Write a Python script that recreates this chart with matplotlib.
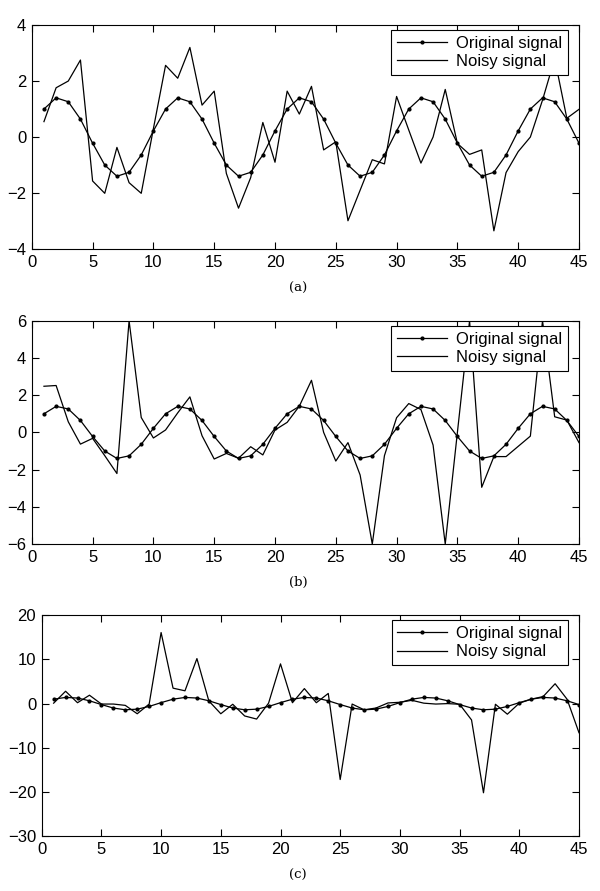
import matplotlib
matplotlib.use("Agg")
import matplotlib.pyplot as plt

plt.rcParams['font.family'] = ['Liberation Sans', 'DejaVu Sans']

# sample index
x = list(range(1, 46))

# clean signal (same in the three panels)
original = [1.00, 1.40, 1.26, 0.64, -0.22, -1.00, -1.40, -1.26, -0.64, 0.22,
            1.00, 1.40, 1.26, 0.64, -0.22, -1.00, -1.40, -1.26, -0.64, 0.22,
            1.00, 1.40, 1.26, 0.64, -0.22, -1.00, -1.40, -1.26, -0.64, 0.22,
            1.00, 1.40, 1.26, 0.64, -0.22, -1.00, -1.40, -1.26, -0.64, 0.22,
            1.00, 1.40, 1.26, 0.64, -0.22]

# noisy versions
noisy_a = [0.55, 1.76, 2.00, 2.75, -1.57, -2.01, -0.37, -1.63, -2.01, 0.30,
           2.56, 2.10, 3.20, 1.14, 1.64, -1.30, -2.54, -1.45, 0.52, -0.90,
           1.64, 0.82, 1.81, -0.46, -0.17, -2.99, -1.90, -0.81, -0.96, 1.45,
           0.25, -0.93, 0.00, 1.70, -0.23, -0.62, -0.46, -3.35, -1.27, -0.52,
           0.00, 1.32, 2.80, 0.67, 0.99]

noisy_b = [2.48, 2.52, 0.57, -0.63, -0.32, -1.25, -2.21, 6.00, 0.80, -0.30,
           0.13, 1.05, 1.91, -0.18, -1.43, -1.13, -1.39, -0.77, -1.21, 0.13,
           0.54, 1.41, 2.80, 0.00, -1.54, -0.55, -2.29, -6.00, -1.25, 0.79,
           1.55, 1.23, -0.68, -6.00, 0.00, 6.00, -2.95, -1.30, -1.30, -0.75,
           -0.20, 6.00, 0.84, 0.66, -0.55]

noisy_c = [0.1, 2.8, 0.2, 1.9, -0.1, -0.1, -0.4, -2.3, -0.1, 16.1,
           3.5, 2.9, 10.2, 0.6, -2.3, -0.15, -2.8, -3.5, 0.1, 9.0,
           0.2, 3.4, 0.2, 2.3, -17.2, -0.1, -1.4, -1.0, 0.15, 0.3,
           0.75, 0.1, -0.1, 0.0, -0.15, -3.7, -20.2, -0.15, -2.4, 0.1,
           1.0, 1.6, 4.5, 1.0, -6.6]

panels = [
    (noisy_a, (-4, 4), [-4, -2, 0, 2, 4], [0.053, 0.7205, 0.912, 0.2514], '(a)', 0.676),
    (noisy_b, (-6, 6), [-6, -4, -2, 0, 2, 4, 6], [0.053, 0.3894, 0.912, 0.2506], '(b)', 0.346),
    (noisy_c, (-30, 20), [-30, -20, -10, 0, 10, 20], [0.0695, 0.0617, 0.8955, 0.2477], '(c)', 0.018),
]

fig = plt.figure(figsize=(6, 8.91), dpi=100)

for noisy, ylim, yticks, pos, caption, cap_y in panels:
    ax = fig.add_axes(pos)
    ax.plot(x, original, color='black', lw=0.9, marker='.', markersize=4,
            label='Original signal')
    ax.plot(x, noisy, color='black', lw=0.9, label='Noisy signal')
    ax.set_xlim(0, 45)
    ax.set_ylim(*ylim)
    ax.set_xticks(range(0, 46, 5))
    ax.set_yticks(yticks)
    ax.tick_params(direction='in', top=True, right=True, labelsize=12,
                   length=5, width=0.8, pad=4)
    for sp in ax.spines.values():
        sp.set_linewidth(0.8)
    leg = ax.legend(loc='upper right', bbox_to_anchor=(0.979, 0.978),
                    borderaxespad=0, fontsize=12, fancybox=False,
                    framealpha=1, edgecolor='black', handlelength=3.0,
                    handletextpad=0.5, borderpad=0.35, labelspacing=0.2)
    leg.get_frame().set_linewidth(0.8)
    fig.text(0.497, cap_y, caption, ha='center', va='center',
             family='DejaVu Serif', fontsize=9.5)

fig.savefig('out.png', dpi=100)
